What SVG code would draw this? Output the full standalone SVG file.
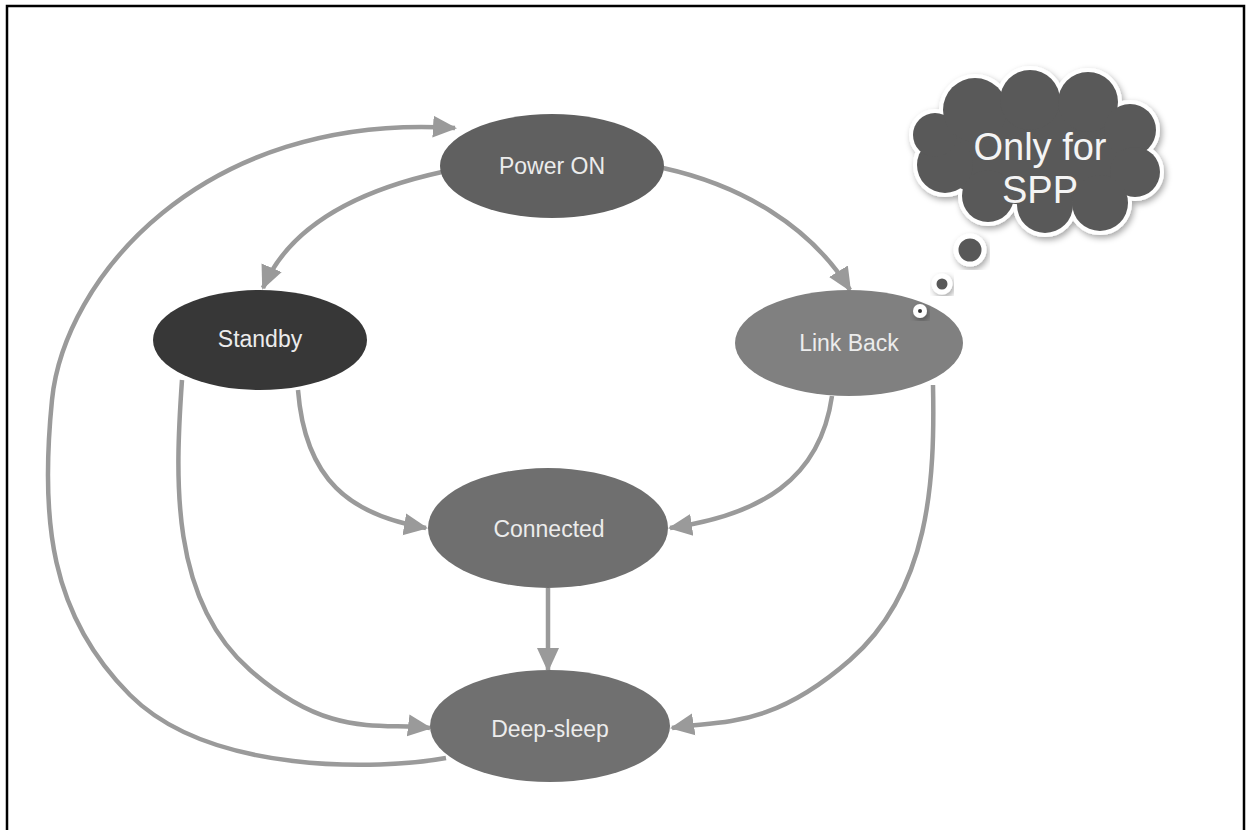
<svg xmlns="http://www.w3.org/2000/svg" width="1252" height="830" viewBox="0 0 1252 830">
<style>
.edge{fill:none;stroke:#9a9a9a;stroke-width:4.5;marker-end:url(#ah)}
.lbl{font-family:"Liberation Sans",Arial,sans-serif;font-size:23px;fill:#ececec;text-anchor:middle}
.big{font-family:"Liberation Sans",Arial,sans-serif;font-size:38px;fill:#f4f4f4;text-anchor:middle}
</style>
<defs>
<marker id="ah" markerUnits="userSpaceOnUse" markerWidth="26" markerHeight="26" viewBox="0 0 26 26" refX="22" refY="13" orient="auto">
<path d="M0,2 L24,13 L0,24 Z" fill="#9a9a9a"/>
</marker>
<filter id="sh" x="-20%" y="-20%" width="140%" height="140%">
<feDropShadow dx="2" dy="3" stdDeviation="3" flood-color="#000" flood-opacity="0.35"/>
</filter>
</defs>
<rect x="0" y="0" width="1252" height="830" fill="#ffffff"/>
<path d="M7,830 V6 H1244 V830" fill="none" stroke="#000" stroke-width="2.5"/>

<g id="connectors">
<path class="edge" d="M442,172 C360,190 290,225 263,288"/>
<path class="edge" d="M663,168 C740,185 810,225 850,290"/>
<path class="edge" d="M446,758 C380,770 210,775 130,695 S40,520 52,400 S200,112 455,128"/>
<path class="edge" d="M298,390 C305,480 350,515 426,528"/>
<path class="edge" d="M182,380 C175,480 170,600 250,670 S380,722 430,728"/>
<path class="edge" d="M832,396 C820,480 760,515 670,528"/>
<path class="edge" d="M933,385 C935,480 930,590 850,660 S720,720 672,728"/>
<path class="edge" d="M548,588 L548,670"/>
</g>

<g id="power-on">
<ellipse cx="552" cy="166" rx="112" ry="52" fill="#606060"/>
<text class="lbl" x="552" y="174">Power ON</text>
</g>
<g id="standby">
<ellipse cx="260" cy="340" rx="107" ry="50" fill="#373737"/>
<text class="lbl" x="260" y="347">Standby</text>
</g>
<g id="link-back">
<ellipse cx="849" cy="343" rx="114" ry="53" fill="#808080"/>
<text class="lbl" x="849" y="351">Link Back</text>
</g>
<g id="connected">
<ellipse cx="548" cy="528" rx="120" ry="60" fill="#6f6f6f"/>
<text class="lbl" x="549" y="537">Connected</text>
</g>
<g id="deep-sleep">
<ellipse cx="550" cy="726" rx="120" ry="56" fill="#707070"/>
<text class="lbl" x="550" y="737">Deep-sleep</text>
</g>

<g id="thought-cloud">
<g filter="url(#sh)">
<g fill="#ffffff" stroke="#ffffff" stroke-width="8">
<ellipse cx="1035" cy="155" rx="100" ry="50"/>
<circle cx="945" cy="165" r="28"/>
<circle cx="935" cy="135" r="22"/>
<circle cx="975" cy="110" r="32"/>
<circle cx="1030" cy="100" r="30"/>
<circle cx="1088" cy="102" r="30"/>
<circle cx="1130" cy="130" r="26"/>
<circle cx="1135" cy="172" r="25"/>
<circle cx="1100" cy="203" r="28"/>
<circle cx="1045" cy="205" r="28"/>
<circle cx="988" cy="196" r="26"/>
</g>
</g>
<g fill="#595959">
<ellipse cx="1035" cy="155" rx="100" ry="50"/>
<circle cx="945" cy="165" r="28"/>
<circle cx="935" cy="135" r="22"/>
<circle cx="975" cy="110" r="32"/>
<circle cx="1030" cy="100" r="30"/>
<circle cx="1088" cy="102" r="30"/>
<circle cx="1130" cy="130" r="26"/>
<circle cx="1135" cy="172" r="25"/>
<circle cx="1100" cy="203" r="28"/>
<circle cx="1045" cy="205" r="28"/>
<circle cx="988" cy="196" r="26"/>
</g>
<text class="big" x="1040" y="160">Only for</text>
<text class="big" x="1040" y="203">SPP</text>
<circle cx="970" cy="250" r="14" fill="#595959" stroke="#fff" stroke-width="5" filter="url(#sh)"/>
<circle cx="942" cy="284" r="8" fill="#595959" stroke="#fff" stroke-width="5" filter="url(#sh)"/>
<circle cx="920" cy="311" r="7" fill="#ffffff" filter="url(#sh)"/>
<circle cx="920" cy="311" r="2" fill="#333"/>
</g>
</svg>
